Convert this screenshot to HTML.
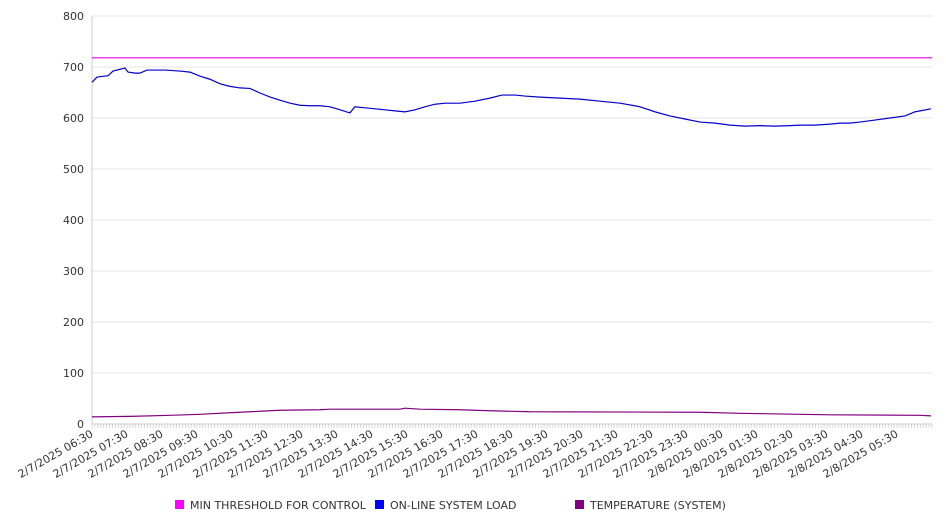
<!DOCTYPE html>
<html><head><meta charset="utf-8"><style>
body{margin:0;background:#fff;}
svg{font-family:"DejaVu Sans","Liberation Sans",sans-serif;}
</style></head><body>
<svg id="c" width="946" height="526"></svg>
<script>
const yTicks=[0,100,200,300,400,500,600,700,800];
const xLabels=["2/7/2025 06:30","2/7/2025 07:30","2/7/2025 08:30","2/7/2025 09:30","2/7/2025 10:30","2/7/2025 11:30","2/7/2025 12:30","2/7/2025 13:30","2/7/2025 14:30","2/7/2025 15:30","2/7/2025 16:30","2/7/2025 17:30","2/7/2025 18:30","2/7/2025 19:30","2/7/2025 20:30","2/7/2025 21:30","2/7/2025 22:30","2/7/2025 23:30","2/8/2025 00:30","2/8/2025 01:30","2/8/2025 02:30","2/8/2025 03:30","2/8/2025 04:30","2/8/2025 05:30"];
const thresholdValue=718;
// hours since 06:30
const loadHours=[0,0.14,0.23,0.46,0.6,0.94,1.03,1.23,1.37,1.57,1.8,2.09,2.51,2.8,3.09,3.37,3.66,3.94,4.23,4.51,4.8,5.09,5.37,5.66,5.94,6.23,6.51,6.8,7.09,7.37,7.51,7.8,8.09,8.37,8.66,8.94,9.23,9.51,9.8,10.09,10.51,10.94,11.37,11.71,12.09,12.37,12.8,13.37,13.94,14.51,15.09,15.66,16.09,16.51,16.94,17.37,17.8,18.23,18.66,19.09,19.51,19.94,20.23,20.66,21.09,21.37,21.66,21.94,22.37,22.8,23.23,23.51,23.97];
const loadValues=[670,680,681,683,692,698,690,688,688,694,694,694,692,690,682,676,667,662,659,658,649,641,635,629,625,624,624,622,616,610,622,620,618,616,614,612,616,622,627,629,629,633,639,645,645,643,641,639,637,633,629,622,612,604,598,592,590,586,584,585,584,585,586,586,588,590,590,592,596,600,604,612,618];
const tempHours=[0,1.09,2.23,3.09,3.94,4.8,5.37,6.51,6.8,8.8,8.94,9.37,10.51,11.37,12.51,17.37,18.51,19.37,21.09,23.66,23.97];
const tempValues=[14,15,17,19,22,25,27,28,29,29,31,29,28,26,24,23,21,20,18,17,16];

const svg=document.getElementById('c');const NS='http://www.w3.org/2000/svg';
const X0=92,X1=932,Y0=424,Y1=16;
const xs=h=>X0+(X1-X0)*h/24, ys=v=>Y0-(Y0-Y1)*v/800;
function mk(t,a,p){const e=document.createElementNS(NS,t);for(const k in a)e.setAttribute(k,a[k]);(p||svg).appendChild(e);return e;}
yTicks.forEach(v=>{
  if(v>0){const g=mk('line',{x1:X0,x2:X1,y1:ys(v),y2:ys(v),stroke:'#e6e6e6','stroke-width':1});
  
  }
  const t=mk('text',{x:84,y:ys(v)+4,'text-anchor':'end','font-size':11,fill:'#333'});t.textContent=v;
  
  
});
const ax=mk('line',{x1:X0,x2:X0,y1:Y1,y2:Y0,stroke:'#ccc'});


const bx=mk('line',{x1:X0,x2:X1,y1:Y0,y2:Y0,stroke:'#ccc'});


for(let m=0;m<=24*12;m++){const x=xs(m/12);mk('line',{x1:x,x2:x,y1:Y0,y2:Y0+4,stroke:'#ccc','stroke-width':0.8});}
xLabels.forEach((l,i)=>{const x=xs(i);
  const t=mk('text',{x:0,y:0,'text-anchor':'end','font-size':11,fill:'#333',transform:`translate(${x+2},${Y0+12}) rotate(-30)`});t.textContent=l;
  
  
});
const th=mk('line',{x1:X0,x2:X1,y1:ys(thresholdValue),y2:ys(thresholdValue),stroke:'#e600e6','stroke-width':1.2});


const lp=mk('polyline',{points:loadHours.map((h,i)=>xs(h)+','+ys(loadValues[i])).join(' '),fill:'none',stroke:'#0000cc','stroke-width':1.2});


const tp=mk('polyline',{points:tempHours.map((h,i)=>xs(h)+','+ys(tempValues[i])).join(' '),fill:'none',stroke:'#800080','stroke-width':1.2});


const leg=[["MIN THRESHOLD FOR CONTROL","#ff00ff",175],["ON-LINE SYSTEM LOAD","#0000ff",375],["TEMPERATURE (SYSTEM)","#800080",575]];
leg.forEach(([n,c,x])=>{
  const r=mk('rect',{x:x,y:500,width:9,height:9,fill:c});
  
  
  const t=mk('text',{x:x+15,y:509,'font-size':11,fill:'#333'});t.textContent=n;
  
  
});
</script>
</body></html>
